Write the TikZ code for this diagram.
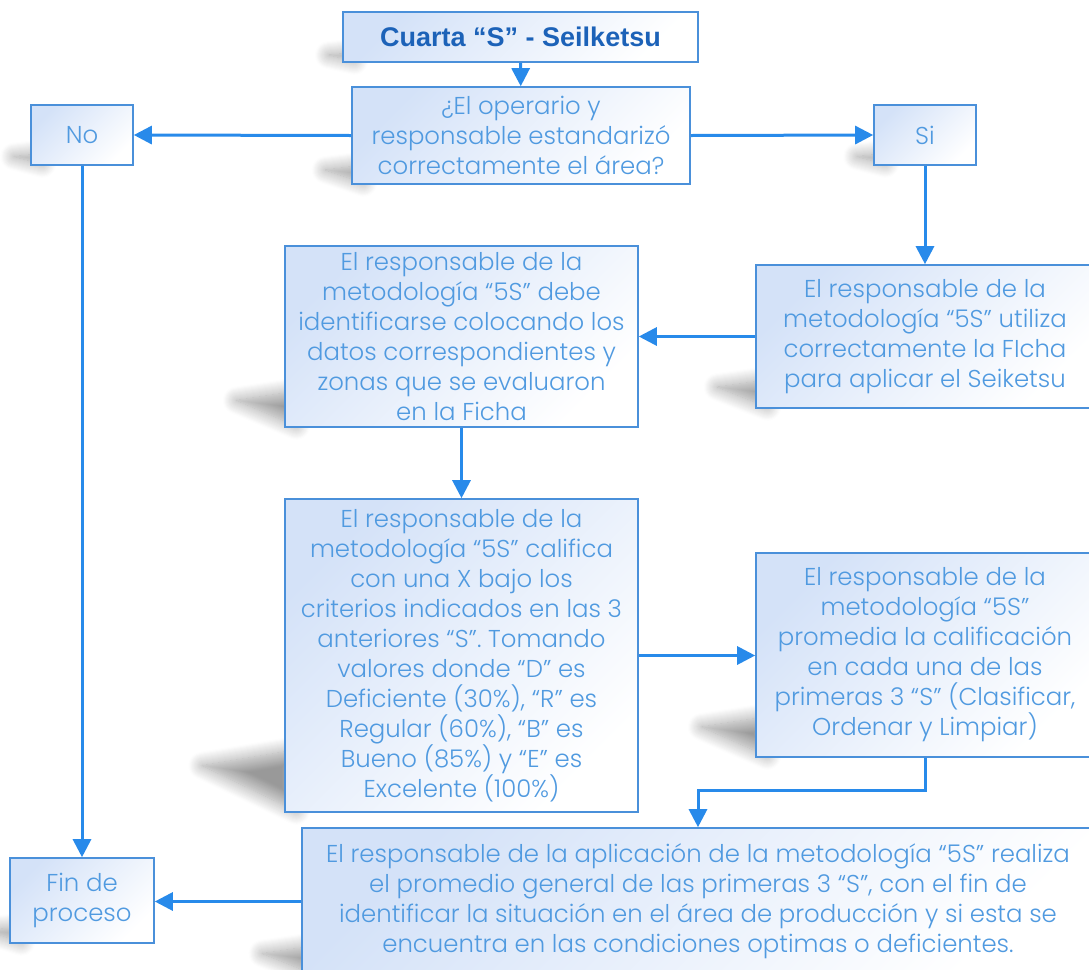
\documentclass[tikz,border=0pt]{standalone}
\usepackage{fontspec}
\newfontfamily\bodyfont{Poppins}[UprightFont=* Light]
\newfontfamily\titlefont{Liberation Sans}
\usetikzlibrary{arrows.meta,calc,backgrounds,shadows.blur}

\definecolor{cFill}{RGB}{212,226,248}
\definecolor{cBorde}{RGB}{74,144,218}
\definecolor{cFlecha}{RGB}{40,138,234}
\definecolor{cTexto}{RGB}{80,154,224}
\definecolor{cTitulo}{RGB}{28,98,184}

\tikzset{
	caja/.style={rectangle, draw=cBorde, line width=0.8pt,
		left color=cFill, right color=white, shading angle=45,
		text=cTexto, align=center, inner sep=0pt,
		font=\bodyfont\fontsize{12.2}{15}\selectfont},
	flecha/.style={draw=cFlecha, line width=1.5pt, -{Triangle[width=9pt,length=9pt]}},
	sombreado/.style={blur shadow={shadow xshift=0pt, shadow yshift=0pt,
		shadow blur radius=7pt, shadow blur steps=14, shadow opacity=40}},
}

% perspective shadow at the lower left corner of a box
\newcommand\sombra[1]{%
	\path let \p1=(#1.south west), \p2=(#1.north west), \n1={\y2-\y1} in
		coordinate (s1) at (\x1+6pt,\y1+1pt)
		coordinate (s2) at (\x1-0.26*\n1,\y1+0.15*\n1)
		coordinate (s3) at (\x1+6pt,\y1+0.2*\n1);
	\path[sombreado] (s1) -- (s2) -- (s3) -- cycle;
}

\begin{document}
\begin{tikzpicture}[x=0.5pt,y=-0.5pt]
	\useasboundingbox (0,0) rectangle (1089,970);
	\node[caja, minimum width=177.5pt, minimum height=25pt,
		font=\titlefont\bfseries\fontsize{13.5}{16}\selectfont, text=cTitulo]
		(cuarta) at (520.5,37) {Cuarta “S” - Seilketsu};
	\node[caja, minimum width=169pt, minimum height=48.5pt] (pregunta) at (521,135.5)
		{¿El operario y\\responsable estandarizó\\correctamente el área?};
	\node[caja, minimum width=51pt, minimum height=30pt] (no) at (82,135) {No};
	\node[caja, minimum width=51pt, minimum height=30pt] (si) at (925,135) {Si};
	\node[caja, minimum width=169pt, minimum height=71.5pt] (ficha) at (925,336.5)
		{El responsable de la\\metodología “5S” utiliza\\correctamente la FIcha\\para aplicar el Seiketsu};
	\node[caja, minimum width=176.5pt, minimum height=90.5pt] (datos) at (461.5,336.5)
		{El responsable de la\\metodología “5S” debe\\identificarse colocando los\\datos correspondientes y\\zonas que se evaluaron\\en la Ficha};
	\node[caja, minimum width=176.5pt, minimum height=156.5pt] (califica) at (461.5,655.5)
		{El responsable de la\\metodología “5S” califica\\con una X bajo los\\criterios indicados en las 3\\anteriores “S”. Tomando\\valores donde “D” es\\Deficiente (30\%), “R” es\\Regular (60\%), “B” es\\Bueno (85\%) y “E” es\\Excelente (100\%)};
	\node[caja, minimum width=169pt, minimum height=102pt] (promedia) at (925,655)
		{El responsable de la\\metodología “5S”\\promedia la calificación\\en cada una de las\\primeras 3 “S” (Clasificar,\\Ordenar y Limpiar)};
	\node[caja, minimum width=396pt, minimum height=73.5pt] (general) at (698,901.5)
		{El responsable de la aplicación de la metodología “5S” realiza\\el promedio general de las primeras 3 “S”, con el fin de\\identificar la situación en el área de producción y si esta se\\encuentra en las condiciones optimas o deficientes.};
	\node[caja, minimum width=72pt, minimum height=42.5pt] (fin) at (82,900.5) {Fin de\\proceso};

	% shadows
	\begin{scope}[on background layer]
		\foreach \b in {cuarta,pregunta,no,si,ficha,datos,califica,promedia,general,fin}
			{\sombra{\b}}
	\end{scope}

	% connectors
	\draw[flecha] (cuarta) -- (pregunta);
	\draw[flecha] (pregunta.west) -- (no.east);
	\draw[flecha] (pregunta.east) -- (si.west);
	\draw[flecha] (si) -- (ficha);
	\draw[flecha] (ficha.west) -- (datos.east);
	\draw[flecha] (datos) -- (califica);
	\draw[flecha] (califica.east) -- (califica.east -| promedia.west);
	\draw[flecha] (promedia.south) -- ++(0,33) -| (general.north);
	\draw[flecha] (no) -- (fin);
	\draw[flecha] (general.west) -- (general.west -| fin.east);
\end{tikzpicture}
\end{document}
